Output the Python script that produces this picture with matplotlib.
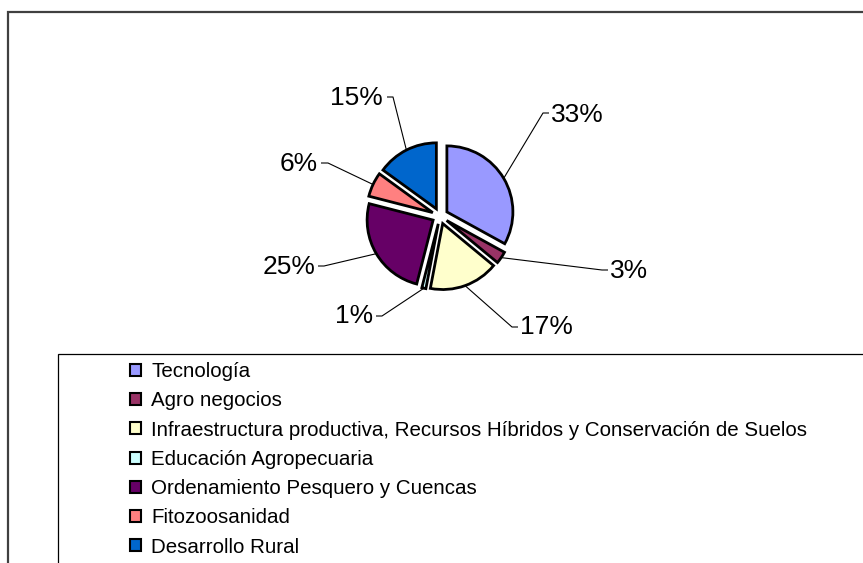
import matplotlib
matplotlib.use('Agg')
import math
import matplotlib.pyplot as plt
from matplotlib.patches import Rectangle, Patch

plt.rcParams['font.family'] = ['Liberation Sans', 'DejaVu Sans']

categories = ['Tecnología', 'Agro negocios',
              'Infraestructura productiva, Recursos Híbridos y Conservación de Suelos',
              'Educación Agropecuaria', 'Ordenamiento Pesquero y Cuencas',
              'Fitozoosanidad', 'Desarrollo Rural']
values = [33, 3, 17, 1, 25, 6, 15]
colors = ['#9999FF', '#993366', '#FFFFCC', '#CCFFFF', '#660066', '#FF8080', '#0066CC']

W, H = 863, 563
fig = plt.figure(figsize=(W / 100, H / 100), dpi=100)
ax = fig.add_axes([0, 0, 1, 1])


def P(x, y):
    """pixel (top-left origin) -> data coords"""
    return (x, H - y)


# outer chart frame and legend frame
ax.add_patch(Rectangle(P(8, 600), 900, 588, fill=False, edgecolor='#404040', lw=1.6, clip_on=False))
ax.add_patch(Rectangle(P(58, 600), 900, 246, fill=False, edgecolor='black', lw=0.9, clip_on=False))

cx, cy = P(440, 216)
R = 66
wedges, _ = ax.pie(values, colors=colors, startangle=90, counterclock=False,
                   radius=R, center=(cx, cy), explode=[8] * len(values),
                   wedgeprops=dict(edgecolor='black', linewidth=2.0))

# label layout: text x, baseline y, ha, elbow point, end point (pixels)
layout = [
    (551, 122, 'left', (543, 113), (549, 113)),
    (610, 278, 'left', (602, 270), (608, 270)),
    (520, 334, 'left', (512, 327), (518, 327)),
    (373, 323, 'right', (382, 316), (376, 316)),
    (315, 274, 'right', (324, 266), (318, 266)),
    (318, 171, 'right', (328, 163), (321, 163)),
    (383, 105, 'right', (393, 97), (387, 97)),
]
total = sum(values)
for w, v, (tx, ty, ha, elb, end) in zip(wedges, values, layout):
    tm = math.radians((w.theta1 + w.theta2) / 2)
    ax0 = w.center[0] + w.r * math.cos(tm)
    ay0 = w.center[1] + w.r * math.sin(tm)
    ex, ey = P(*elb)
    fx, fy = P(*end)
    ax.plot([ax0, ex, fx], [ay0, ey, fy], color='black', lw=0.8, solid_capstyle='butt')
    ax.text(*P(tx, ty), f"{round(100 * v / total)}%", ha=ha, va='baseline', fontsize=19)

ax.set_xlim(0, W)
ax.set_ylim(0, H)
ax.set_aspect('auto')
ax.axis('off')

handles = [Patch(facecolor=c, edgecolor='black', linewidth=1.5) for c in colors]
ax.legend(handles, categories, loc='upper left', bbox_to_anchor=P(130, 362),
          bbox_transform=ax.transData, frameon=False, fontsize=14.8,
          handlelength=0.52, handleheight=0.52, handletextpad=0.52,
          labelspacing=0.5, borderpad=0, borderaxespad=0)

fig.savefig('out.png', dpi=100)
